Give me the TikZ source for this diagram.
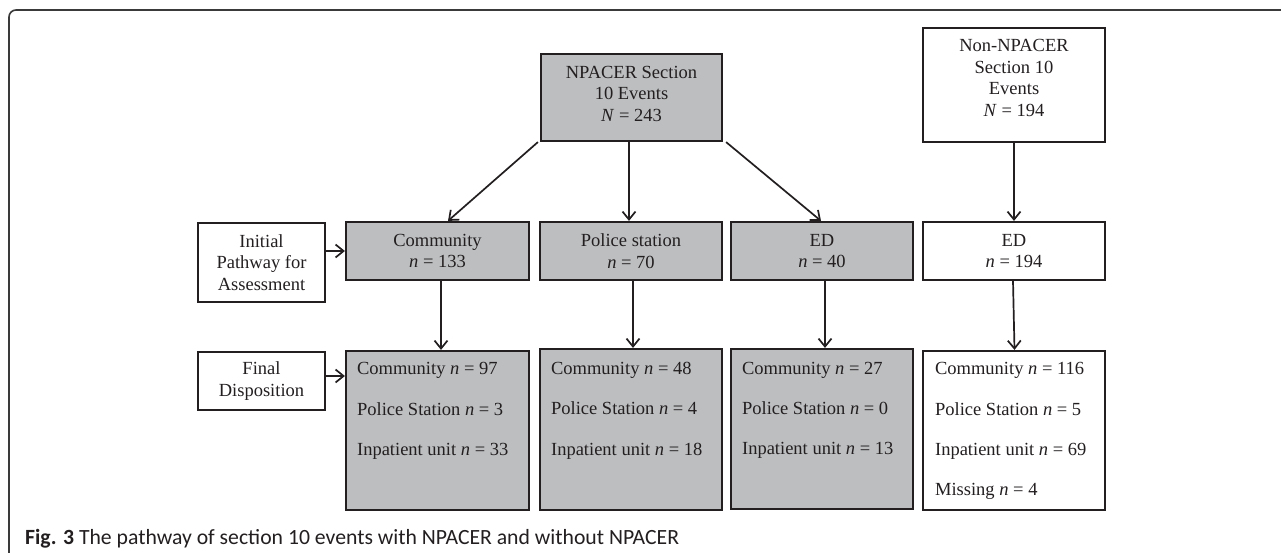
\documentclass[tikz,border=0pt]{standalone}
\usepackage{fontspec}
\setmainfont{Liberation Serif}
\newfontfamily\capfont{Carlito}
\usetikzlibrary{arrows.meta}
\definecolor{ln}{HTML}{231F20}
\definecolor{fillg}{HTML}{BCBEC0}
\definecolor{frm}{HTML}{3A3A3A}
\begin{document}
\begin{tikzpicture}[x=1pt,y=-1pt,
  box/.style={draw=ln, line width=2.2pt, inner sep=0pt, align=center,
    font=\fontsize{18.5}{21.5}\selectfont, text=ln},
  gbox/.style={box, fill=fillg},
  wbox/.style={box, fill=white},
  lst/.style={inner sep=0pt, align=left, anchor=north west,
    font=\fontsize{18.5}{21.5}\selectfont, text=ln},
  arr/.style={draw=ln, line width=1.7pt,
    -{Straight Barb[length=8pt,width=13pt,line width=1.7pt]}},
]
\useasboundingbox (0,0) rectangle (1281,553);
\fill[white] (0,0) rectangle (1281,553);
% frame
\draw[frm, line width=1.6pt, rounded corners=7pt] (9,553) -- (9,10) -- (1281,10);

% top boxes
\node[gbox, minimum width=181pt, minimum height=87pt, text depth=8pt] (np) at (631.5,97.5)
  {NPACER Section\\10 Events\\\textit{N} = 243};
\node[wbox, minimum width=182pt, minimum height=114pt, text depth=14pt] (nnp) at (1014,85)
  {Non-NPACER\\Section 10\\Events\\\textit{N} = 194};

% middle row
\node[wbox, minimum width=127pt, minimum height=79pt] (ini) at (261.5,262.5)
  {Initial\\Pathway for\\Assessment};
\node[gbox, minimum width=183pt, minimum height=58pt] (comm) at (437.5,251)
  {Community\\\textit{n} = 133};
\node[gbox, minimum width=182pt, minimum height=58pt] (ps) at (631,251)
  {Police station\\\textit{n} = 70};
\node[gbox, minimum width=182pt, minimum height=58pt] (ed) at (822,251)
  {ED\\\textit{n} = 40};
\node[wbox, minimum width=182pt, minimum height=58pt] (ed2) at (1014,251)
  {ED\\\textit{n} = 194};

% bottom row
\node[wbox, minimum width=127pt, minimum height=58pt] (fin) at (261.5,381)
  {Final\\Disposition};
\node[gbox, minimum width=183pt, minimum height=159pt] (b1) at (437.5,430.5) {};
\node[gbox, minimum width=182pt, minimum height=161pt] (b2) at (631,429.5) {};
\node[gbox, minimum width=182pt, minimum height=160pt] (b3) at (822,429) {};
\node[wbox, minimum width=182pt, minimum height=159pt] (b4) at (1014,430.5) {};

\node[lst] (t1) at ([xshift=12pt,yshift=-12.5pt]b1.north west)
  {Community \textit{n} = 97\\[18.8pt]Police Station \textit{n} = 3\\[18.8pt]Inpatient unit \textit{n} = 33};
\node[lst] (t2) at ([xshift=12pt,yshift=-14pt]b2.north west)
  {Community \textit{n} = 48\\[18.8pt]Police Station \textit{n} = 4\\[18.8pt]Inpatient unit \textit{n} = 18};
\node[lst] (t3) at ([xshift=12pt,yshift=-14pt]b3.north west)
  {Community \textit{n} = 27\\[18.8pt]Police Station \textit{n} = 0\\[18.8pt]Inpatient unit \textit{n} = 13};
\node[lst] (t4) at ([xshift=13pt,yshift=-12.5pt]b4.north west)
  {Community \textit{n} = 116\\[18.8pt]Police Station \textit{n} = 5\\[18.8pt]Inpatient unit \textit{n} = 69\\[18.8pt]Missing \textit{n} = 4};

% connectors
\draw[arr] ([xshift=-2pt]np.south west) -- ([xshift=10.5pt]comm.north);
\draw[arr] ([xshift=-2.5pt]np.south) -- ([xshift=-2pt]ps.north);
\draw[arr] ([xshift=3pt]np.south east) -- ([xshift=-1pt]ed.north);
\draw[arr] (nnp.south) -- (ed2.north);
\draw[arr] ([xshift=3.5pt]comm.south) -- ([xshift=3.5pt]b1.north);
\draw[arr] ([xshift=2pt]ps.south) -- ([xshift=2pt]b2.north);
\draw[arr] ([xshift=3pt]ed.south) -- ([xshift=3pt]b3.north);
\draw[arr] ([xshift=-1pt]ed2.south) -- ([xshift=0.5pt]b4.north);
\draw[arr] (ini.east |- comm.west) -- (comm.west);
\coordinate (fa) at ([yshift=5pt]fin.east);
\draw[arr] (fa) -- (fa -| b1.west);

% caption
\node[anchor=base west, inner sep=0pt, font=\capfont\fontsize{21.7}{24}\selectfont, text=ln] (cap) at (25,544)
  {\textbf{Fig. 3} The pathway of section 10 events with NPACER and without NPACER};
\end{tikzpicture}
\end{document}
